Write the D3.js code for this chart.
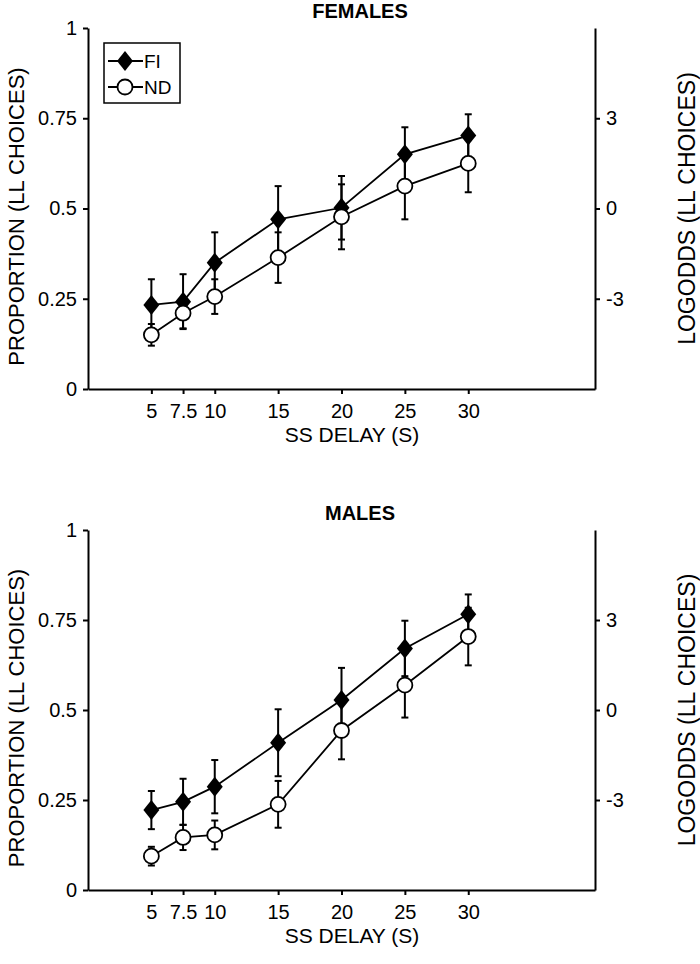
<!DOCTYPE html>
<html>
<head>
<meta charset="utf-8">
<script src="https://cdn.jsdelivr.net/npm/d3@7"></script>
<style>
  body { margin: 0; background: #fff; }
  svg { font-family: "Liberation Sans", Arial, sans-serif; }
</style>
</head>
<body>
<div id="chart"></div>
<script>
// data
const delays = [5, 7.5, 10, 15, 20, 25, 30];
const xTicks = [5, 7.5, 10, 15, 20, 25, 30];
const leftTicks = [0, 0.25, 0.5, 0.75, 1];
const rightTicks = [-3, 0, 3];

const femaleFI = [0.233, 0.242, 0.35, 0.47, 0.502, 0.65, 0.702];
const femaleFIerr = [0.071, 0.076, 0.084, 0.092, 0.088, 0.075, 0.059];
const femaleND = [0.15, 0.21, 0.256, 0.364, 0.477, 0.562, 0.625];
const femaleNDerr = [0.03, 0.042, 0.048, 0.07, 0.09, 0.092, 0.08];

const maleFI = [0.222, 0.245, 0.287, 0.409, 0.528, 0.671, 0.766];
const maleFIerr = [0.053, 0.064, 0.074, 0.093, 0.089, 0.077, 0.055];
const maleND = [0.094, 0.146, 0.153, 0.238, 0.443, 0.569, 0.704];
const maleNDerr = [0.026, 0.035, 0.04, 0.065, 0.08, 0.09, 0.08];

const width = 700, height = 964;
const left = 88, right = 595;
const diamond = 'M0,-10 L8,0 L0,10 L-8,0 Z';

const svg = d3.select('#chart').append('svg')
  .attr('width', width)
  .attr('height', height);

const x = d3.scaleLinear().domain([0, 40]).range([left, right]);

function panel(title, top, bottom, fi, fiErr, nd, ndErr, legend) {
  const y = d3.scaleLinear().domain([0, 1]).range([bottom, top]);
  const yR = d3.scaleLinear().domain([-6, 6]).range([bottom, top]);
  const mid = (top + bottom) / 2;
  const g = svg.append('g');

  // axes
  const ax = g.append('g')
    .attr('transform', `translate(0,${bottom})`)
    .call(d3.axisBottom(x).tickValues(xTicks).tickSize(5).tickPadding(10).tickSizeOuter(0)
      .tickFormat(d => d));
  const ay = g.append('g')
    .attr('transform', `translate(${left},0)`)
    .call(d3.axisLeft(y).tickValues(leftTicks).tickSize(5).tickPadding(6).tickSizeOuter(0)
      .tickFormat(d => d));
  const ar = g.append('g')
    .attr('transform', `translate(${right},0)`)
    .call(d3.axisRight(yR).tickValues(rightTicks).tickSize(5).tickPadding(6).tickSizeOuter(0)
      .tickFormat(d => String(d)));

  [ax, ay, ar].forEach(a => {
    a.selectAll('path, line').attr('stroke', '#000').attr('stroke-width', 2);
    a.selectAll('text').attr('fill', '#000').attr('font-size', 20);
  });

  g.append('text')
    .attr('x', 360).attr('y', top - 10)
    .attr('text-anchor', 'middle').attr('font-weight', 'bold').attr('font-size', 20)
    .text(title);

  g.append('text')
    .attr('x', 352).attr('y', bottom + 53)
    .attr('text-anchor', 'middle').attr('font-size', 21)
    .text('SS DELAY (S)');

  g.append('text')
    .attr('transform', `translate(24,${mid + 8}) rotate(-90)`)
    .attr('text-anchor', 'middle').attr('font-size', 22)
    .text('PROPORTION (LL CHOICES)');

  g.append('text')
    .attr('transform', `translate(695,${mid}) rotate(-90)`)
    .attr('text-anchor', 'middle').attr('font-size', 23)
    .text('LOGODDS (LL CHOICES)');

  const line = d3.line().x(d => x(d.x)).y(d => y(d.v));
  const series = [
    { vals: fi, err: fiErr, type: 'FI' },
    { vals: nd, err: ndErr, type: 'ND' }
  ];

  series.forEach(s => {
    const pts = delays.map((d, i) => ({ x: d, v: s.vals[i], e: s.err[i] }));
    const eg = g.append('g');
    pts.forEach(p => {
      const x0 = x(p.x);
      eg.append('line').attr('x1', x0).attr('x2', x0)
        .attr('y1', y(p.v - p.e)).attr('y2', y(p.v + p.e))
        .attr('stroke', '#000').attr('stroke-width', 2);
      [p.v - p.e, p.v + p.e].forEach(v => {
        eg.append('line').attr('x1', x0 - 3.5).attr('x2', x0 + 3.5)
          .attr('y1', y(v)).attr('y2', y(v))
          .attr('stroke', '#000').attr('stroke-width', 2);
      });
    });
    g.append('path').datum(pts)
      .attr('d', line).attr('fill', 'none')
      .attr('stroke', '#000').attr('stroke-width', 1.8);
  });

  series.forEach(s => {
    const pts = delays.map((d, i) => ({ x: d, v: s.vals[i] }));
    if (s.type === 'FI') {
      g.selectAll(null).data(pts).enter().append('path')
        .attr('d', diamond)
        .attr('transform', d => `translate(${x(d.x)},${y(d.v)})`)
        .attr('fill', '#000');
    } else {
      g.selectAll(null).data(pts).enter().append('circle')
        .attr('cx', d => x(d.x)).attr('cy', d => y(d.v)).attr('r', 7.5)
        .attr('fill', '#fff').attr('stroke', '#000').attr('stroke-width', 1.8);
    }
  });

  if (legend) {
    const lg = g.append('g');
    lg.append('rect').attr('x', 104).attr('y', 43).attr('width', 76).attr('height', 60)
      .attr('fill', '#fff').attr('stroke', '#000').attr('stroke-width', 1.5);
    [['FI', 61], ['ND', 87]].forEach(([k, ly]) => {
      lg.append('line').attr('x1', 108).attr('x2', 143).attr('y1', ly).attr('y2', ly)
        .attr('stroke', '#000').attr('stroke-width', 1.8);
      if (k === 'FI') {
        lg.append('path').attr('d', diamond)
          .attr('transform', `translate(125,${ly})`).attr('fill', '#000');
      } else {
        lg.append('circle').attr('cx', 125).attr('cy', ly).attr('r', 7.5)
          .attr('fill', '#fff').attr('stroke', '#000').attr('stroke-width', 1.8);
      }
      lg.append('text').attr('x', 144).attr('y', ly + 7).attr('font-size', 19).text(k);
    });
  }
}

panel('FEMALES', 28, 389, femaleFI, femaleFIerr, femaleND, femaleNDerr, true);
panel('MALES', 530, 890, maleFI, maleFIerr, maleND, maleNDerr, false);
</script>
</body>
</html>
